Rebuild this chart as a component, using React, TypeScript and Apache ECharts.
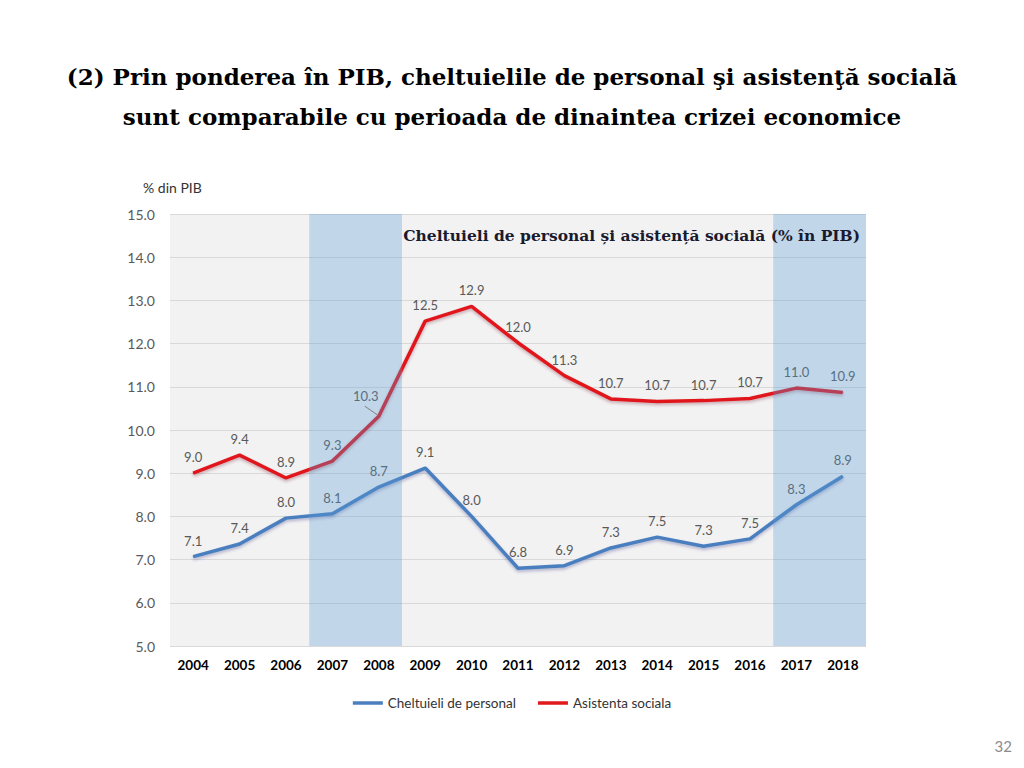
import React, { useEffect, useRef } from "react";
import * as echarts from "echarts";

const years = ["2004","2005","2006","2007","2008","2009","2010","2011","2012","2013","2014","2015","2016","2017","2018"];
const cheltuieli = [7.07, 7.36, 7.96, 8.06, 8.68, 9.12, 8.0, 6.8, 6.86, 7.27, 7.52, 7.31, 7.48, 8.27, 8.93];
const asistenta = [9.0, 9.42, 8.89, 9.28, 10.32, 12.52, 12.86, 12.02, 11.26, 10.72, 10.66, 10.68, 10.73, 10.97, 10.87];
const highlightYears = ["2007", "2008", "2017", "2018"];
const yTicks = { min: 5, max: 15, interval: 1 };
const seriesNames = ["Cheltuieli de personal", "Asistenta sociala"];
const mainTitle = "(2) Prin ponderea în PIB, cheltuielile de personal şi asistenţă socială\nsunt comparabile cu perioada de dinaintea crizei economice";
const innerTitle = "Cheltuieli de personal și asistență socială (% în PIB)";

export default function App() {
  const ref = useRef<HTMLDivElement>(null);
  useEffect(() => {
    if (!ref.current) return;
    const chart = echarts.init(ref.current, null, { renderer: "svg" });
    const labelBase = {
      show: true,
      position: "top" as const,
      distance: 9,
      color: "#595959",
      fontSize: 13,
      fontFamily: "Lato",
      formatter: (p: any) => Number(p.value).toFixed(1),
    };
    const bandData = years.map((y) => (highlightYears.includes(y) ? yTicks.max : null));
    chart.setOption({
      animation: false,
      backgroundColor: "#ffffff",
      grid: {
        left: 170,
        right: 158,
        top: 214,
        bottom: 122,
        show: true,
        backgroundColor: "#f2f2f2",
        borderWidth: 0,
      },
      legend: {
        data: seriesNames,
        top: 691,
        left: "center",
        icon: "rect",
        itemWidth: 30,
        itemHeight: 3.5,
        itemGap: 22,
        textStyle: { fontFamily: "Lato", fontSize: 13.5, color: "#333333" },
      },
      xAxis: {
        type: "category",
        data: years,
        boundaryGap: true,
        axisLine: { show: false },
        axisTick: { show: false },
        axisLabel: {
          color: "#000000",
          fontWeight: "bold",
          fontFamily: "Lato",
          fontSize: 13.5,
          margin: 12,
        },
      },
      yAxis: {
        type: "value",
        min: yTicks.min,
        max: yTicks.max,
        interval: yTicks.interval,
        name: "% din PIB",
        nameLocation: "end",
        nameGap: 20,
        nameTextStyle: { color: "#333333", fontFamily: "Lato", fontSize: 14, align: "left", padding: [0, 0, 0, -27] },
        axisLine: { show: false },
        axisTick: { show: false },
        axisLabel: {
          color: "#595959",
          fontFamily: "Lato",
          fontSize: 14,
          margin: 15,
          formatter: (v: number) => v.toFixed(1),
        },
        splitLine: { lineStyle: { color: "#d9d9d9", width: 1 } },
      },
      series: [
        {
          name: "band",
          type: "bar",
          data: bandData,
          barWidth: "100%",
          barGap: "-100%",
          z: 5,
          silent: true,
          itemStyle: { color: "rgba(91,155,213,0.32)" },
        },
        {
          name: seriesNames[0],
          type: "line",
          data: cheltuieli,
          symbol: "circle",
          symbolSize: 1,
          z: 3,
          lineStyle: {
            color: "#4a7ebf",
            width: 3.5,
            shadowColor: "rgba(60,60,140,0.35)",
            shadowBlur: 3,
            shadowOffsetY: 2,
          },
          itemStyle: { color: "#4a7ebf" },
          label: labelBase,
        },
        {
          name: seriesNames[1],
          type: "line",
          data: asistenta.map((v, i) =>
            i === 4 ? { value: v, label: { offset: [-13, -4] } } : v
          ),
          symbol: "circle",
          symbolSize: 1,
          z: 3,
          lineStyle: {
            color: "#e0191b",
            width: 3.5,
            shadowColor: "rgba(120,40,60,0.35)",
            shadowBlur: 3,
            shadowOffsetY: 2,
          },
          itemStyle: { color: "#e0191b" },
          label: labelBase,
        },
      ],
    });
    const pt = chart.convertToPixel({ xAxisIndex: 0, yAxisIndex: 0 }, [4, asistenta[4]]) as number[];
    chart.setOption({
      graphic: [
        {
          type: "text",
          x: 512,
          y: 56,
          style: {
            text: mainTitle,
            textAlign: "center",
            fill: "#000000",
            font: "bold 23px 'DejaVu Serif'",
            lineHeight: 40,
          },
        },
        {
          type: "text",
          x: 860,
          y: 227,
          style: {
            text: innerTitle,
            textAlign: "right",
            fill: "#1a1a2e",
            font: "bold 15.5px 'DejaVu Serif'",
          },
          z: 20,
        },
        {
          type: "line",
          shape: { x1: pt[0] - 14, y1: pt[1] - 10, x2: pt[0] - 1, y2: pt[1] - 1 },
          style: { stroke: "#7f7f7f", lineWidth: 1 },
          z: 10,
        },
        {
          type: "text",
          right: 12,
          top: 738,
          style: { text: "32", fill: "#8c8c8c", fontSize: 15, fontFamily: "Lato" },
        },
      ],
    });
    return () => chart.dispose();
  }, []);
  return <div ref={ref} style={{ position: "fixed", left: 0, top: 0, width: 1024, height: 768 }} />;
}
